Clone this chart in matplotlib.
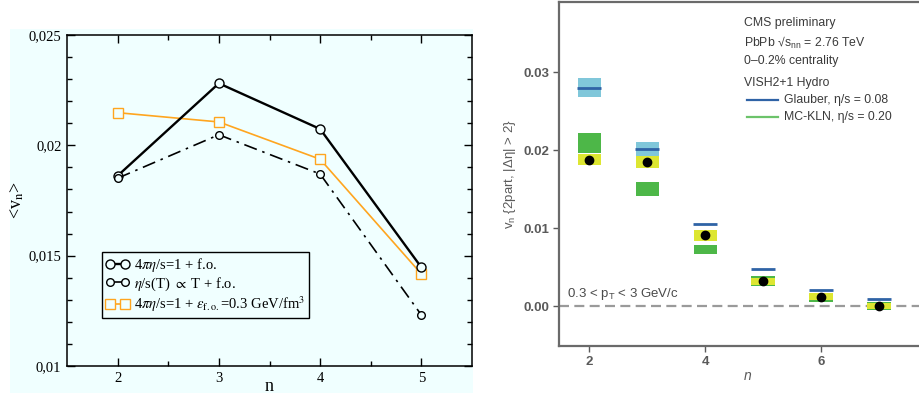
import matplotlib
matplotlib.use('Agg')
import matplotlib.pyplot as plt
from matplotlib import font_manager
from matplotlib.patches import Rectangle
from matplotlib.font_manager import FontProperties

# ---------------- data: left panel ----------------
n_left = [2, 3, 4, 5]
v_eta1 = [0.01862, 0.02281, 0.02074, 0.01447]
v_etaT = [0.01851, 0.02048, 0.01870, 0.01231]
v_efo = [0.02148, 0.02106, 0.01937, 0.01417]
left_xticks = [2, 3, 4, 5]
left_yticks = [0.010, 0.015, 0.020, 0.025]
left_yticklabels = ['0,01', '0,015', '0,02', '0,025']
left_labels = [r"4$\pi\eta$/s=1 + f.o.",
               r"$\eta$/s(T) $\propto$ T + f.o.",
               r"4$\pi\eta$/s=1 + $\varepsilon_{\rm f.o.}$=0.3 GeV/fm$^3$"]

# ---------------- data: right panel ----------------
n_right = [2, 3, 4, 5, 6, 7]
glauber = [0.0280, 0.0201, 0.0105, 0.0048, 0.00205, 0.00098]
glauber_err = [0.0012, 0.00097, 0.0, 0.0, 0.0, 0.0]
mckln = [0.0209, 0.0150, 0.0073, 0.0032, 0.00115, 0.00002]
mckln_err = [0.0013, 0.0009, 0.0006, 0.00065, 0.0006, 0.00053]
cms = [0.0188, 0.0185, 0.0091, 0.0032, 0.0012, 0.0000]
cms_syst = [0.0007, 0.0008, 0.0007, 0.00045, 0.00045, 0.0004]
right_xticks = [2, 4, 6]
right_yticks = [0.0, 0.01, 0.02, 0.03]
right_yticklabels = ['0.00', '0.01', '0.02', '0.03']

names = {f.name for f in font_manager.fontManager.ttflist}
narrow = 'Liberation Sans Narrow' if 'Liberation Sans Narrow' in names else 'Liberation Sans'
serif = 'Liberation Serif'

plt.rcParams['mathtext.fontset'] = 'custom'
plt.rcParams['mathtext.rm'] = narrow
plt.rcParams['mathtext.it'] = narrow + ':italic'
plt.rcParams['mathtext.sf'] = narrow

W, H = 919, 394
fig = plt.figure(figsize=(W / 100, H / 100), dpi=100)

def fx(px):
    return px / W

def fy(py):
    return 1 - py / H

cyan = '#f0ffff'
fig.add_artist(Rectangle((fx(10), fy(393)), fx(473) - fx(10), fy(29) - fy(393),
                         transform=fig.transFigure, facecolor=cyan, edgecolor='none', zorder=-5))

# ---------------- left axes ----------------
axL = fig.add_axes([fx(67), fy(366), fx(472) - fx(67), fy(35) - fy(366)])
axL.set_facecolor(cyan)
axL.plot(n_left, v_eta1, color='black', lw=1.7, marker='o', ms=6.5,
         mfc=cyan, mec='black', mew=1.0, zorder=3, label=left_labels[0])
axL.plot(n_left, v_etaT, color='black', lw=1.2, ls=(0, (8, 3.5, 1.5, 3.5)), marker='o', ms=5.5,
         mfc=cyan, mec='black', mew=1.0, zorder=3, label=left_labels[1])
axL.plot(n_left, v_efo, color='#ffa51f', lw=1.2, marker='s', ms=6.5,
         mfc=cyan, mec='#ffa51f', mew=1.0, zorder=2, label=left_labels[2])
axL.set_xlim(1.5, 5.5)
axL.set_ylim(0.010, 0.025)
axL.set_xticks(left_xticks)
axL.set_xticklabels([str(v) for v in left_xticks])
axL.set_xticks([2.5, 3.5, 4.5], minor=True)
axL.set_yticks(left_yticks)
axL.set_yticklabels(left_yticklabels)
axL.set_yticks([0.010 + 0.001 * i for i in range(16)], minor=True)
axL.tick_params(which='both', direction='in', top=True, right=True, color='black', width=1.0)
axL.tick_params(which='major', length=6, pad=4, labelsize=10.5)
axL.tick_params(which='minor', length=3.5)
for lab in axL.get_xticklabels() + axL.get_yticklabels():
    lab.set_fontfamily(serif)
for sp in axL.spines.values():
    sp.set_linewidth(1.1)
axL.set_xlabel('n', fontfamily=serif, fontsize=13, labelpad=-5)
axL.set_ylabel(r'<v$_{\rm n}$>', fontfamily=serif, fontsize=13, math_fontfamily='stix', labelpad=2)
leg = axL.legend(loc='upper left', bbox_to_anchor=((102 - 67) / 405, (366 - 252) / 331),
                 borderaxespad=0, frameon=True, fancybox=False, edgecolor='black',
                 facecolor=cyan, framealpha=1, handlelength=1.6, handletextpad=0.35,
                 labelspacing=0.12, borderpad=0.25, numpoints=2,
                 prop=FontProperties(family=serif, size=10.5, math_fontfamily='stix'))
leg.get_frame().set_linewidth(1.0)

# ---------------- right axes ----------------
gray = '#5a5a5a'
axR = fig.add_axes([fx(559), fy(346), fx(378), fy(2) - fy(346)])
axR.set_xlim(1.48, 8.0)
axR.set_ylim(-0.0051, 0.039)
w = 0.4
axR.axhline(0, color='#9a9a9a', lw=1.6, ls=(0, (4.5, 2.4)), zorder=1)
axR.bar(n_right, [2 * e for e in glauber_err], bottom=[g - e for g, e in zip(glauber, glauber_err)],
        width=w, color='#80c7da', zorder=2)
axR.bar(n_right, [2 * e for e in mckln_err], bottom=[m - e for m, e in zip(mckln, mckln_err)],
        width=w, color='#4db748', zorder=2)
axR.bar(n_right, [2 * e for e in cms_syst], bottom=[c - e for c, e in zip(cms, cms_syst)],
        width=w, color='#dde631', zorder=3)
axR.hlines(glauber, [x - 0.21 for x in n_right], [x + 0.21 for x in n_right],
           color='#2f63a6', lw=2.0, zorder=4)
axR.plot(n_right, cms, ls='none', marker='o', ms=6, color='black', zorder=5)
axR.set_xticks(right_xticks)
axR.set_xticklabels([str(v) for v in right_xticks])
axR.set_yticks(right_yticks)
axR.set_yticklabels(right_yticklabels)
axR.tick_params(direction='out', length=4, width=1.0, color=gray, labelcolor=gray,
                labelsize=9.5, pad=3)
for lab in axR.get_xticklabels() + axR.get_yticklabels():
    lab.set_fontfamily(narrow)
    lab.set_fontweight('bold')
for sp in axR.spines.values():
    sp.set_color('#6a6a6a')
    sp.set_linewidth(1.6)
axR.set_xlabel('$n$', fontsize=10, color=gray, labelpad=1)
axR.set_ylabel(r'v$_{\rm n}$ {2part, |Δη| > 2}', fontfamily=narrow, fontsize=9.5, color=gray,
               labelpad=4)
axR.text(1.62, 0.0016, r'0.3 < p$_{\rm T}$ < 3 GeV/c', fontfamily=narrow, fontsize=9.5,
         color='#4a4a4a', va='center', ha='left')
tx = 4.67
txt_kw = dict(fontfamily=narrow, fontsize=8.8, color='#3a3a3a', va='center', ha='left')
axR.text(tx, 0.0363, 'CMS preliminary', **txt_kw)
axR.text(tx, 0.0337, r'PbPb √s$_{\rm nn}$ = 2.76 TeV', **txt_kw)
axR.text(tx, 0.0315, '0–0.2% centrality', **txt_kw)
axR.text(tx, 0.0286, 'VISH2+1 Hydro', **txt_kw)
axR.plot([4.72, 5.26], [0.0264, 0.0264], color='#2f63a6', lw=1.6)
axR.text(5.36, 0.0264, 'Glauber, η/s = 0.08', **txt_kw)
axR.plot([4.72, 5.26], [0.0242, 0.0242], color='#6cc36a', lw=1.6)
axR.text(5.36, 0.0242, 'MC-KLN, η/s = 0.20', **txt_kw)

fig.savefig('out.png', dpi=100)
